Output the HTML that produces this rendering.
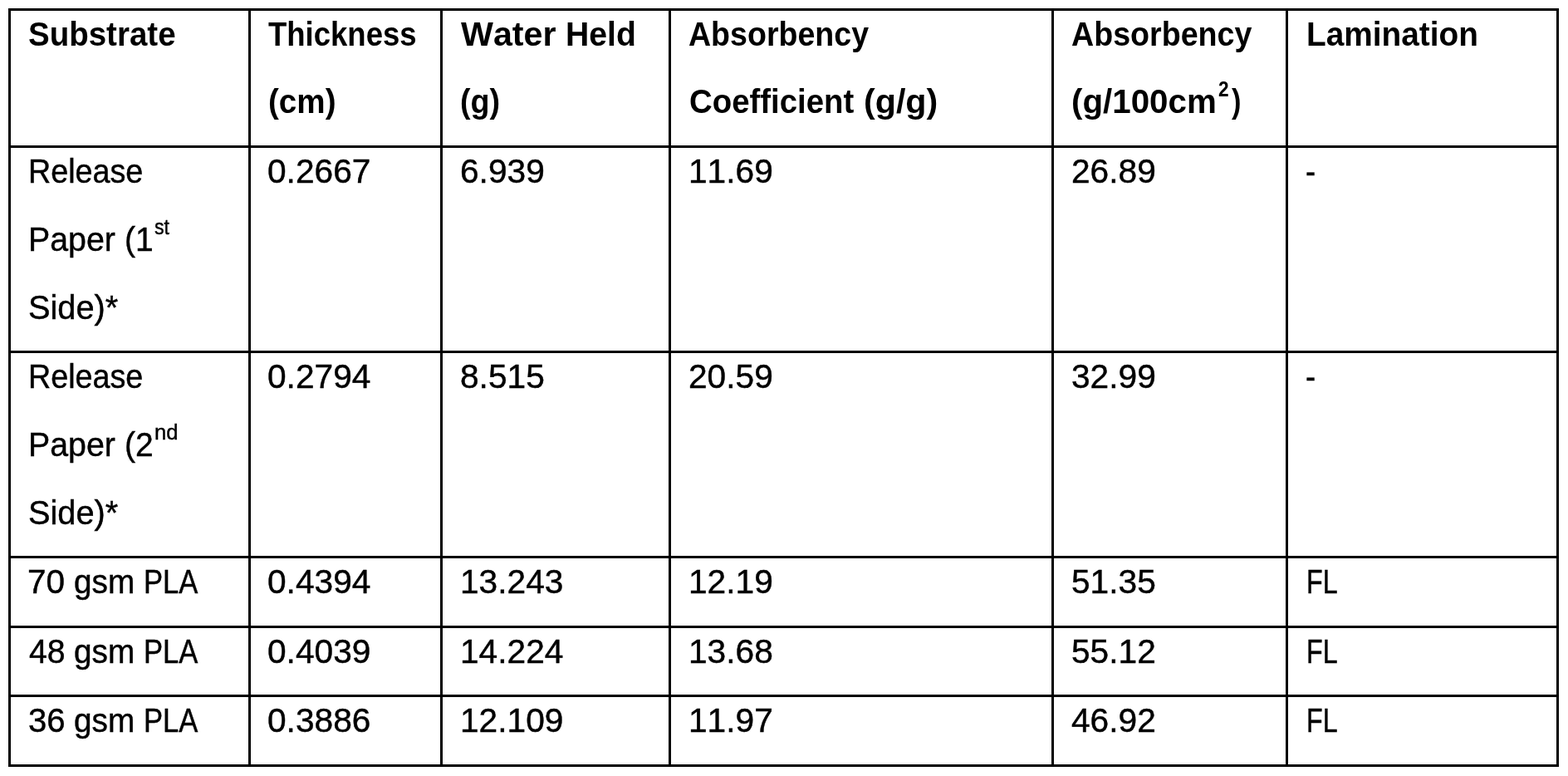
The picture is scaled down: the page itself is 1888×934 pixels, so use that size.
<!DOCTYPE html>
<html lang="en">
<head>
<meta charset="utf-8">
<title>Substrate absorbency table</title>
<style>
html,body{margin:0;padding:0;background:#fff;}
body{width:1888px;height:934px;overflow:hidden;position:relative;
  font-family:"Liberation Sans",Arial,Helvetica,sans-serif;color:#000;
  font-kerning:none;font-variant-ligatures:none;}
table{position:absolute;left:10px;top:10px;width:1867px;height:913px;
  border-collapse:separate;border-spacing:0;table-layout:fixed;}
th,td{position:relative;box-sizing:border-box;padding:0;margin:0;
  border-left:3px solid #000;border-top:3px solid #000;
  text-align:left;vertical-align:top;font-weight:400;overflow:visible;}
th:last-child,td:last-child{border-right:3px solid #000;}
tr:last-child td{border-bottom:3px solid #000;}
.t{position:absolute;display:block;white-space:nowrap;
  font-size:40px;line-height:40px;height:40px;
  transform-origin:0 50%;}
.r{-webkit-text-stroke:0.45px #000;}
.n{font-size:40.1px;}
.b{font-weight:700;}
sup.s{font-size:26px;line-height:26px;height:26px;vertical-align:baseline;}
</style>
</head>
<body>
<table>
<colgroup>
<col style="width:289px">
<col style="width:231px">
<col style="width:275px">
<col style="width:461px">
<col style="width:282px">
<col style="width:329px">
</colgroup>
<thead>
<tr style="height:165px">
<th style="height:165px"><span class="t b" style="left:20.84px;top:8px;transform:scaleX(0.9624);">Substrate</span></th>
<th style="height:165px"><span class="t b" style="left:20.8px;top:8px;transform:scaleX(0.9126);">Thickness</span> <span class="t b" style="left:20.87px;top:89px;transform:scaleX(0.9651);">(cm)</span></th>
<th style="height:165px"><span class="t b" style="left:22.2px;top:8px;transform:scaleX(1.0302);">Water</span> <span class="t b" style="left:148.34px;top:8px;transform:scaleX(0.9788);">Held</span> <span class="t b" style="left:21.12px;top:89px;transform:scaleX(0.9423);">(g)</span></th>
<th style="height:165px"><span class="t b" style="left:20.96px;top:8px;transform:scaleX(0.9388);">Absorbency</span> <span class="t b" style="left:22.24px;top:89px;transform:scaleX(0.9593);">Coefficient</span> <span class="t b" style="left:231.84px;top:89px;transform:scaleX(1.0300);">(g/g)</span></th>
<th style="height:165px"><span class="t b" style="left:20.76px;top:8px;transform:scaleX(0.9406);">Absorbency</span> <span class="t b" style="left:20.88px;top:89px;transform:scaleX(1.0079);">(g/100cm</span><sup class="t b s" style="left:197.9px;top:81px;transform:scaleX(0.8714);">2</sup><span class="t b" style="left:213.8px;top:89px;transform:scaleX(0.8583);">)</span></th>
<th style="height:165px"><span class="t b" style="left:21.86px;top:8px;transform:scaleX(0.9698);">Lamination</span></th>
</tr>
</thead>
<tbody>
<tr style="height:247px">
<td style="height:247px"><span class="t r" style="left:21.47px;top:8px;transform:scaleX(0.9424);">Release</span> <span class="t r" style="left:21.35px;top:90px;transform:scaleX(0.9824);">Paper</span> <span class="t r" style="left:136.75px;top:90px;transform:scaleX(0.9746);">(1</span><sup class="t r s" style="left:173.4px;top:81.5px;transform:scaleX(0.8857);">st</sup> <span class="t r" style="left:21.41px;top:171.5px;transform:scaleX(0.9927);">Side)*</span></td>
<td style="height:247px"><span class="t n r" style="left:20.2px;top:8px;transform:scaleX(1.0150);">0.2667</span></td>
<td style="height:247px"><span class="t n r" style="left:21px;top:8px;transform:scaleX(1.0150);">6.939</span></td>
<td style="height:247px"><span class="t n r" style="left:20.5px;top:8px;transform:scaleX(1.0150);">11.69</span></td>
<td style="height:247px"><span class="t n r" style="left:20.6px;top:8px;transform:scaleX(1.0150);">26.89</span></td>
<td style="height:247px"><span class="t r" style="left:21.09px;top:8px;transform:scaleX(0.9091);">-</span></td>
</tr>
<tr style="height:247px">
<td style="height:247px"><span class="t r" style="left:21.47px;top:8px;transform:scaleX(0.9424);">Release</span> <span class="t r" style="left:21.35px;top:90px;transform:scaleX(0.9824);">Paper</span> <span class="t r" style="left:136.75px;top:90px;transform:scaleX(0.9746);">(2</span><sup class="t r s" style="left:173.01px;top:81.5px;transform:scaleX(0.9864);">nd</sup> <span class="t r" style="left:21.41px;top:171.5px;transform:scaleX(0.9927);">Side)*</span></td>
<td style="height:247px"><span class="t n r" style="left:20.2px;top:8px;transform:scaleX(1.0150);">0.2794</span></td>
<td style="height:247px"><span class="t n r" style="left:21px;top:8px;transform:scaleX(1.0150);">8.515</span></td>
<td style="height:247px"><span class="t n r" style="left:20.5px;top:8px;transform:scaleX(1.0150);">20.59</span></td>
<td style="height:247px"><span class="t n r" style="left:20.6px;top:8px;transform:scaleX(1.0150);">32.99</span></td>
<td style="height:247px"><span class="t r" style="left:21.09px;top:8px;transform:scaleX(0.9091);">-</span></td>
</tr>
<tr style="height:84px">
<td style="height:84px"><span class="t r" style="left:20.37px;top:8px;transform:scaleX(1.0134);">70</span> <span class="t r" style="left:76.03px;top:8px;transform:scaleX(0.9689);">gsm</span> <span class="t r" style="left:160.41px;top:8px;transform:scaleX(0.8639);">PLA</span></td>
<td style="height:84px"><span class="t n r" style="left:20.2px;top:8px;transform:scaleX(1.0150);">0.4394</span></td>
<td style="height:84px"><span class="t n r" style="left:21px;top:8px;transform:scaleX(1.0150);">13.243</span></td>
<td style="height:84px"><span class="t n r" style="left:20.5px;top:8px;transform:scaleX(1.0150);">12.19</span></td>
<td style="height:84px"><span class="t n r" style="left:20.6px;top:8px;transform:scaleX(1.0150);">51.35</span></td>
<td style="height:84px"><span class="t r" style="left:22.48px;top:8px;transform:scaleX(0.8060);">FL</span></td>
</tr>
<tr style="height:83px">
<td style="height:83px"><span class="t r" style="left:21.8px;top:8px;transform:scaleX(0.9804);">48</span> <span class="t r" style="left:76.03px;top:8px;transform:scaleX(0.9689);">gsm</span> <span class="t r" style="left:160.41px;top:8px;transform:scaleX(0.8639);">PLA</span></td>
<td style="height:83px"><span class="t n r" style="left:20.2px;top:8px;transform:scaleX(1.0150);">0.4039</span></td>
<td style="height:83px"><span class="t n r" style="left:21px;top:8px;transform:scaleX(1.0150);">14.224</span></td>
<td style="height:83px"><span class="t n r" style="left:20.5px;top:8px;transform:scaleX(1.0150);">13.68</span></td>
<td style="height:83px"><span class="t n r" style="left:20.6px;top:8px;transform:scaleX(1.0150);">55.12</span></td>
<td style="height:83px"><span class="t r" style="left:22.48px;top:8px;transform:scaleX(0.8060);">FL</span></td>
</tr>
<tr style="height:87px">
<td style="height:87px"><span class="t r" style="left:20.8px;top:8px;transform:scaleX(1.0036);">36</span> <span class="t r" style="left:76.03px;top:8px;transform:scaleX(0.9689);">gsm</span> <span class="t r" style="left:160.41px;top:8px;transform:scaleX(0.8639);">PLA</span></td>
<td style="height:87px"><span class="t n r" style="left:20.2px;top:8px;transform:scaleX(1.0150);">0.3886</span></td>
<td style="height:87px"><span class="t n r" style="left:21px;top:8px;transform:scaleX(1.0150);">12.109</span></td>
<td style="height:87px"><span class="t n r" style="left:20.5px;top:8px;transform:scaleX(1.0150);">11.97</span></td>
<td style="height:87px"><span class="t n r" style="left:20.6px;top:8px;transform:scaleX(1.0150);">46.92</span></td>
<td style="height:87px"><span class="t r" style="left:22.48px;top:8px;transform:scaleX(0.8060);">FL</span></td>
</tr>
</tbody>
</table>
</body>
</html>
